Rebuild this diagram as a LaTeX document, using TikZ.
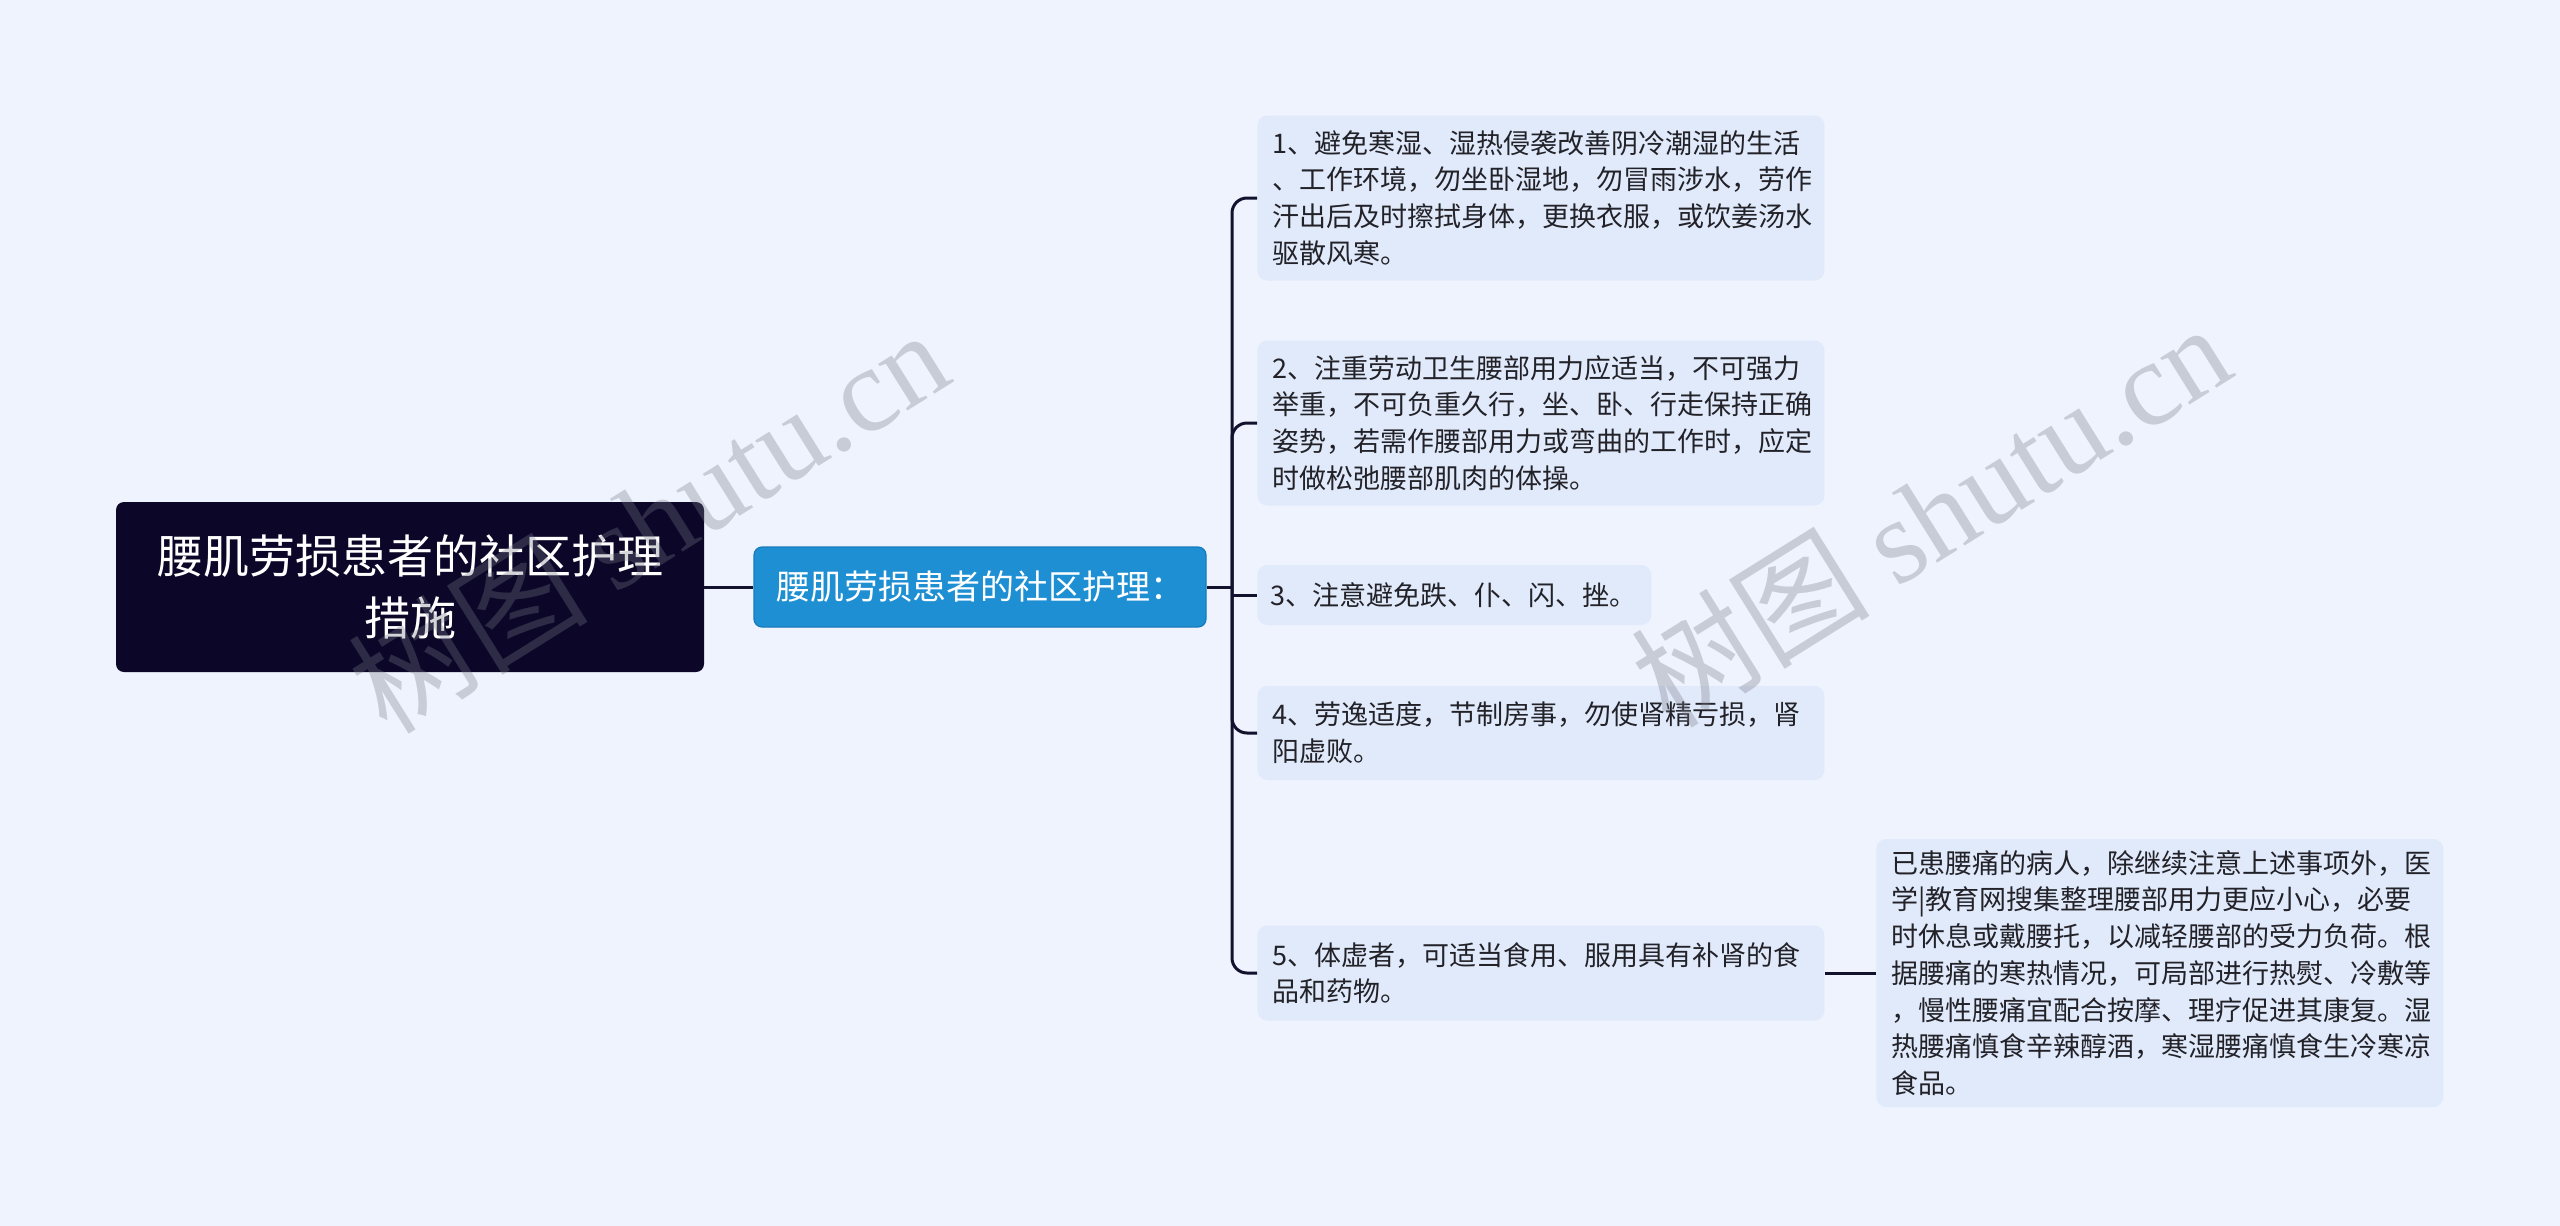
\documentclass[tikz,border=0pt]{standalone}
\usepackage{fontspec}
\setmainfont{Noto Sans CJK SC}
\newfontfamily\wmserif{Liberation Serif}
\definecolor{bgc}{RGB}{238,243,254}
\definecolor{rootc}{RGB}{12,6,40}
\definecolor{subc}{RGB}{30,143,211}
\definecolor{subb}{RGB}{24,122,190}
\definecolor{itemc}{RGB}{225,234,251}
\definecolor{linec}{RGB}{18,17,46}
\definecolor{textc}{RGB}{34,34,40}
\definecolor{wmc}{RGB}{120,122,135}
\tikzset{
  rootbox/.style={fill=rootc, rounded corners=4pt, text=white, align=center, inner sep=0pt,
    font=\fontsize{23pt}{31pt}\selectfont},
  subbox/.style={fill=subc, draw=subb, line width=0.6pt, rounded corners=4pt, text=white, align=center, inner sep=0pt,
    font=\fontsize{17pt}{20pt}\selectfont},
  itembox/.style={fill=itemc, rounded corners=5pt, text=textc, align=left, anchor=west,
    inner xsep=7.5pt, inner ysep=0pt, font=\fontsize{13.5pt}{18.35pt}\selectfont},
  conn/.style={draw=linec, line width=1.5pt},
  wm/.style={text=wmc, opacity=0.32, font=\fontsize{60pt}{62pt}\selectfont}
}
\begin{document}
\begin{tikzpicture}[x=0.5pt,y=-0.5pt]
\fill[bgc] (0,0) rectangle (2560,1226);
\useasboundingbox (0,0) rectangle (2560,1226);

\node[rootbox, minimum width=294pt, minimum height=85pt] (root) at (410,587) {腰肌劳损患者的社区护理\\措施};
\node[subbox, minimum width=226pt, minimum height=40pt] (sub) at (980,587) {腰肌劳损患者的社区护理：};

\node[itembox, text width=268.5pt, minimum height=82.5pt] (i1) at (1257,198) {1、避免寒湿、湿热侵袭改善阴冷潮湿的生活\\、工作环境，勿坐卧湿地，勿冒雨涉水，劳作\\汗出后及时擦拭身体，更换衣服，或饮姜汤水\\驱散风寒。};
\node[itembox, text width=268.5pt, minimum height=82.5pt] (i2) at (1257,423) {2、注重劳动卫生腰部用力应适当，不可强力\\举重，不可负重久行，坐、卧、行走保持正确\\姿势，若需作腰部用力或弯曲的工作时，应定\\时做松弛腰部肌肉的体操。};
\node[itembox, text width=184pt, inner xsep=6.5pt, minimum height=30pt] (i3) at (1257,595) {3、注意避免跌、仆、闪、挫。};
\node[itembox, text width=268.5pt, minimum height=47pt] (i4) at (1257,733) {4、劳逸适度，节制房事，勿使肾精亏损，肾\\阳虚败。};
\node[itembox, text width=268.5pt, minimum height=47.5pt] (i5) at (1257,973) {5、体虚者，可适当食用、服用具有补肾的食\\品和药物。};
\node[itembox, text width=268.5pt, minimum height=134pt] (d1) at (1876,973) {已患腰痛的病人，除继续注意上述事项外，医\\学|教育网搜集整理腰部用力更应小心，必要\\时休息或戴腰托，以减轻腰部的受力负荷。根\\据腰痛的寒热情况，可局部进行热熨、冷敷等\\，慢性腰痛宜配合按摩、理疗促进其康复。湿\\热腰痛慎食辛辣醇酒，寒湿腰痛慎食生冷寒凉\\食品。};

\coordinate (bj) at (1232,587);
\draw[conn] (root.east) -- (sub.west);
\draw[conn] (sub.east) -- (bj);
\foreach \n in {i1,i2,i4,i5} {\draw[conn, rounded corners=7.5pt] (bj) |- (\n.west);}
\draw[conn] (bj |- i3.west) -- (i3.west);
\draw[conn] (i5.east) -- (d1.west);

\node[wm, rotate=32] (wm1) at (648,520) {树图 {\wmserif shutu.cn}};
\node[wm, rotate=32] (wm2) at (1930,514) {树图 {\wmserif shutu.cn}};
\end{tikzpicture}
\end{document}
